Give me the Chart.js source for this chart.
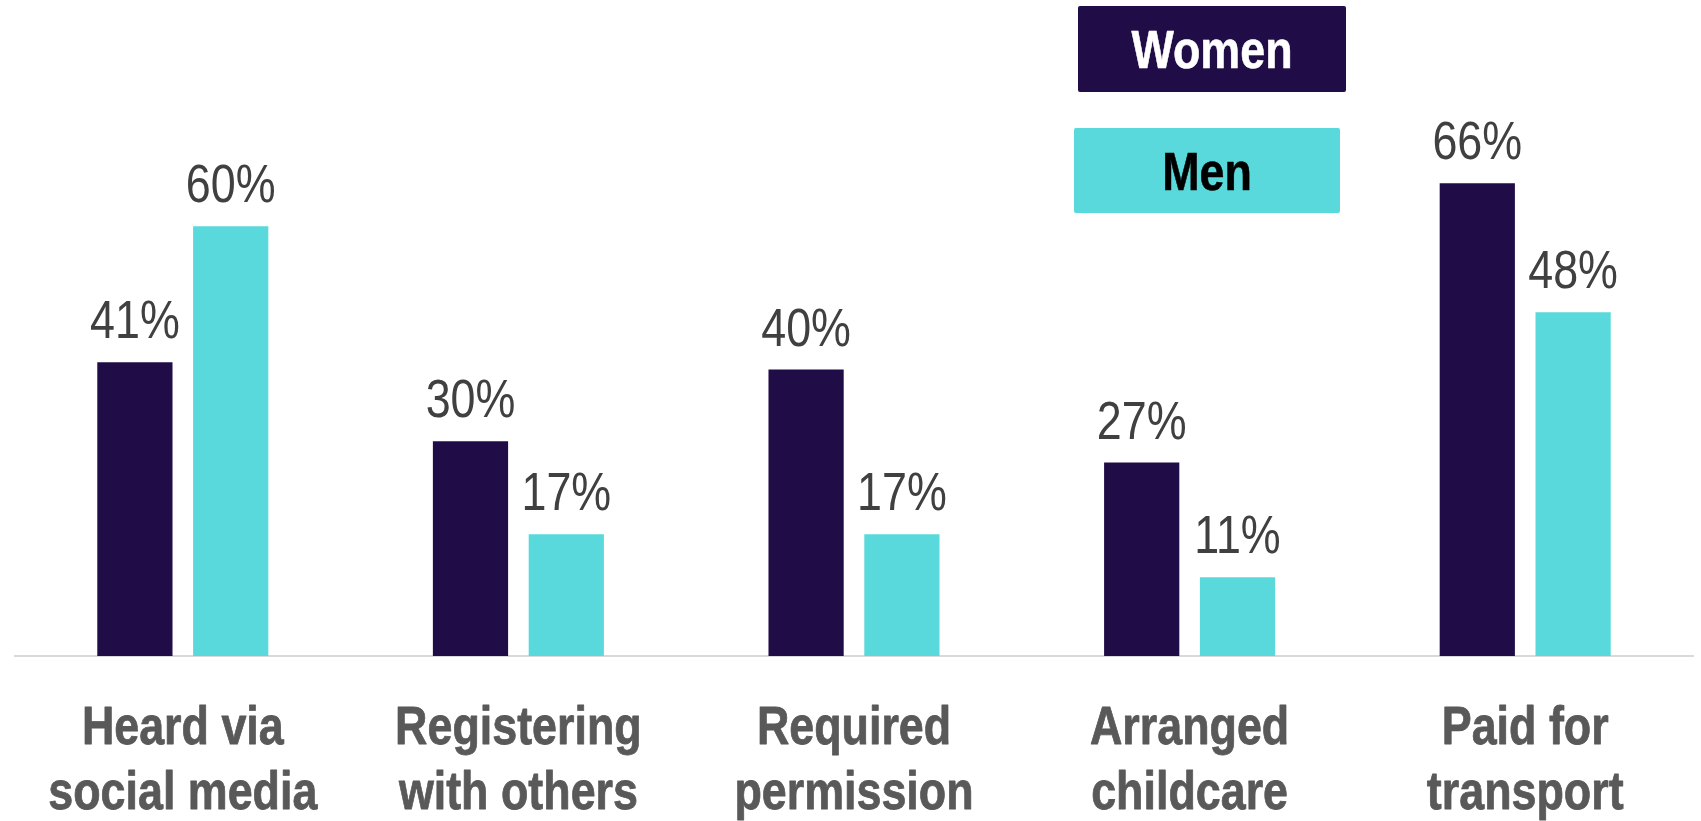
<!DOCTYPE html>
<html>
<head>
<meta charset="utf-8">
<script src="https://cdn.jsdelivr.net/npm/chart.js@4.4.1/dist/chart.umd.min.js"></script>
<style>
html,body{margin:0;padding:0;background:#fff;}
#wrap{position:relative;width:1701px;height:821px;}
canvas{display:block;}
</style>
</head>
<body>
<div id="wrap"><canvas id="c" width="1701" height="821"></canvas></div>
<script>
const categories = [["Heard via","social media"],["Registering","with others"],["Required","permission"],["Arranged","childcare"],["Paid for","transport"]];
const seriesNames = ["Women","Men"];
const women = [41, 30, 40, 27, 66];
const men = [60, 17, 17, 11, 48];
const colors = ["#200C47", "#59D9DB"];

const FONT = '"Liberation Sans", Arial, sans-serif';
const NARROW = 0.83; // emulate a narrow face

function narrowText(ctx, text, x, y, stroke){
  ctx.save();
  ctx.translate(x, y);
  ctx.scale(NARROW, 1);
  ctx.fillText(text, 0, 0);
  if (stroke){
    ctx.lineWidth = stroke;
    ctx.strokeStyle = ctx.fillStyle;
    ctx.lineJoin = 'round';
    ctx.strokeText(text, 0, 0);
  }
  ctx.restore();
}

const labelPlugin = {
  id: 'valLabels',
  afterDatasetsDraw(chart){
    const ctx = chart.ctx;
    ctx.save();
    ctx.font = `54px ${FONT}`;
    ctx.fillStyle = '#404040';
    ctx.textAlign = 'center';
    ctx.textBaseline = 'alphabetic';
    chart.data.datasets.forEach((ds, di) => {
      const meta = chart.getDatasetMeta(di);
      meta.data.forEach((bar, i) => {
        narrowText(ctx, ds.data[i] + '%', bar.x, bar.y - 24);
      });
    });
    ctx.restore();
  }
};

const catPlugin = {
  id: 'catLabels',
  afterDraw(chart){
    const ctx = chart.ctx;
    const sx = chart.scales.x;
    const bottom = chart.chartArea.bottom;
    ctx.save();
    ctx.font = `bold 54px ${FONT}`;
    ctx.fillStyle = '#595959';
    ctx.textAlign = 'center';
    ctx.textBaseline = 'alphabetic';
    chart.data.labels.forEach((lab, i) => {
      const x = sx.getPixelForTick(i);
      lab.forEach((line, li) => {
        narrowText(ctx, line, x, bottom + 88 + li * 65, 0.8);
      });
    });
    ctx.restore();
  }
};

const legendPlugin = {
  id: 'boxLegend',
  afterDraw(chart){
    const ctx = chart.ctx;
    const boxes = [
      {x:1078, y:6, w:268, h:86, text:'#FFFFFF', base:68},
      {x:1074, y:128, w:266, h:85, text:'#000000', base:190}
    ];
    ctx.save();
    chart.data.datasets.forEach((ds, di) => {
      const b = boxes[di];
      ctx.fillStyle = ds.backgroundColor;
      ctx.beginPath();
      ctx.roundRect(b.x, b.y, b.w, b.h, 2);
      ctx.fill();
      ctx.fillStyle = b.text;
      ctx.font = `bold 54px ${FONT}`;
      ctx.textAlign = 'center';
      ctx.textBaseline = 'alphabetic';
      narrowText(ctx, ds.label, b.x + b.w/2, b.base, 0.6);
    });
    ctx.restore();
  }
};

new Chart(document.getElementById('c'), {
  type: 'bar',
  data: {
    labels: categories,
    datasets: [
      {label: seriesNames[0], data: women, backgroundColor: colors[0]},
      {label: seriesNames[1], data: men, backgroundColor: colors[1]}
    ]
  },
  options: {
    responsive: false,
    animation: false,
    devicePixelRatio: 1,
    layout: {padding: {left: 15, right: 8, top: 83, bottom: 0}},
    datasets: {bar: {categoryPercentage: 0.571, barPercentage: 0.785}},
    plugins: {legend: {display: false}, tooltip: {enabled: false}},
    scales: {
      x: {
        grid: {display: false, drawTicks: false},
        border: {display: true, color: '#D9D9D9', width: 2},
        ticks: {display: false},
        afterFit(scale){ scale.height = 165; scale.paddingLeft = 0; scale.paddingRight = 0; }
      },
      y: {display: false, min: 0, max: 80}
    }
  },
  plugins: [labelPlugin, catPlugin, legendPlugin]
});
</script>
</body>
</html>
